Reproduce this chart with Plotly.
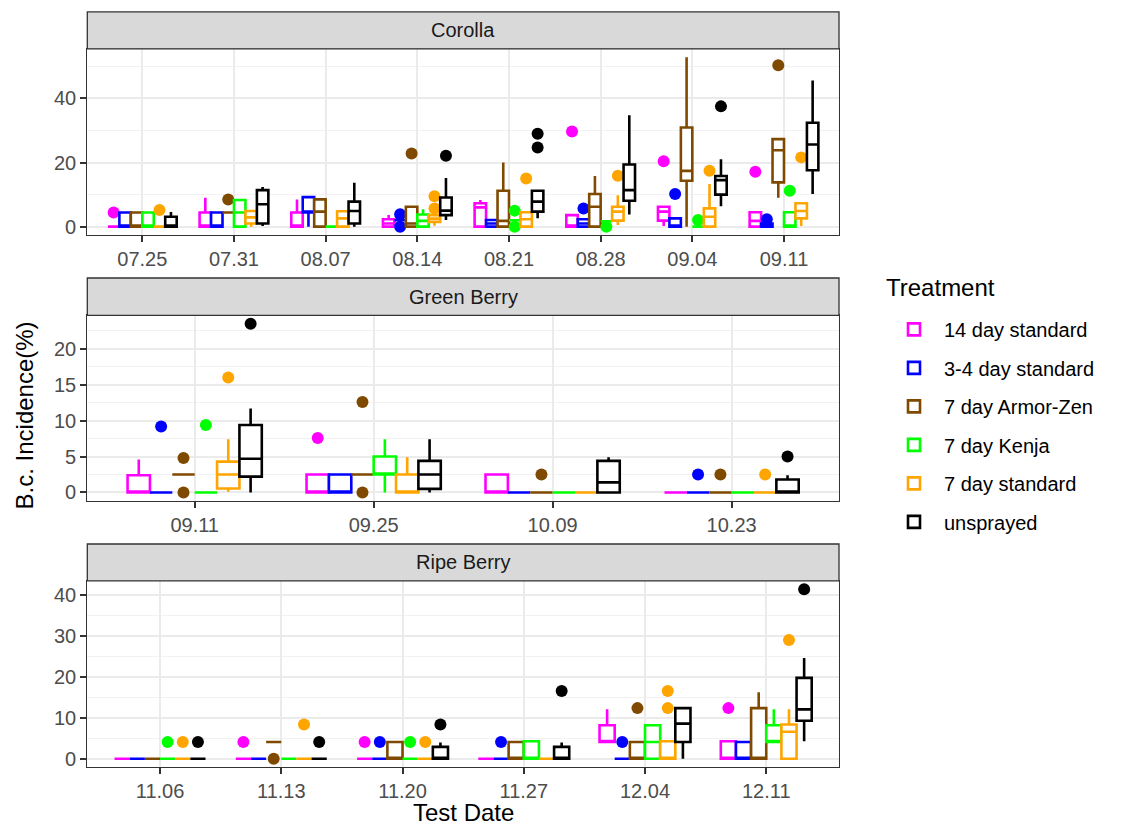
import plotly.graph_objects as go

# ---------------------------------------------------------------- data
TREATMENTS = ["14 day standard", "3-4 day standard", "7 day Armor-Zen",
              "7 day Kenja", "7 day standard", "unsprayed"]
COLORS = ["#FF00FF", "#0000FF", "#7F4A00", "#00FF00", "#FFA500", "#000000"]

# Corolla
COROLLA_DATES = ["07.25", "07.31", "08.07", "08.14", "08.21", "08.28", "09.04", "09.11"]
COROLLA_LOWER = {
    "14 day standard":  [0, 0, 0, 0, 0, 0, 0.2, 0],
    "3-4 day standard": [0, 0, 0, 2.0, 0, 0, 0, 0],
    "7 day Armor-Zen":  [0, 4.4, 0, 0, 0, 0, 0, 9.0],
    "7 day Kenja":      [0, 0, 0, 0, 2.0, 1.7, 0, 0],
    "7 day standard":   [0, 0, 0, 0.3, 0, 0.5, 0, 0.2],
    "unsprayed":        [0, 0.2, 0, 2.1, 2.6, 3.8, 6.4, 10.2],
}
COROLLA_Q1 = {
    "14 day standard":  [0, 0, 0, 0, 0, 0, 1.9, 0],
    "3-4 day standard": [0, 0, 4.4, 2.0, 0, 0, 0, 0],
    "7 day Armor-Zen":  [0, 4.4, 0, 0, 0, 0, 14.3, 13.8],
    "7 day Kenja":      [0, 0, 0, 0, 2.0, 1.7, 0, 0],
    "7 day standard":   [0, 1.0, 0, 1.5, 0, 1.9, 0, 2.6],
    "unsprayed":        [0, 1.0, 1.0, 3.6, 4.7, 8.1, 10.0, 17.6],
}
COROLLA_MEDIAN = {
    "14 day standard":  [0, 0, 0, 1.0, 6.0, 0, 4.7, 1.8],
    "3-4 day standard": [0, 0, 4.7, 2.0, 1.0, 1.0, 0, 0],
    "7 day Armor-Zen":  [0, 4.4, 4.7, 1.0, 1.8, 6.2, 17.4, 23.8],
    "7 day Kenja":      [0, 4.4, 0, 1.8, 2.0, 1.7, 0, 0],
    "7 day standard":   [0, 2.9, 2.6, 2.5, 2.3, 4.7, 3.1, 4.9],
    "unsprayed":        [0, 7.0, 4.9, 5.0, 7.8, 11.4, 14.5, 25.6],
}
COROLLA_Q3 = {
    "14 day standard":  [0, 4.4, 4.4, 2.3, 7.3, 3.6, 6.2, 4.5],
    "3-4 day standard": [4.4, 4.4, 9.2, 2.0, 2.1, 2.3, 2.6, 1.0],
    "7 day Armor-Zen":  [4.4, 4.4, 8.5, 6.2, 11.2, 10.2, 30.9, 27.3],
    "7 day Kenja":      [4.4, 8.3, 0, 3.8, 2.0, 1.7, 0, 4.5],
    "7 day standard":   [0, 4.9, 4.8, 3.6, 4.5, 6.2, 5.7, 7.3],
    "unsprayed":        [3.1, 11.4, 7.8, 9.1, 11.2, 19.4, 15.8, 32.4],
}
COROLLA_UPPER = {
    "14 day standard":  [0, 9.0, 8.5, 3.6, 8.3, 3.6, 6.2, 4.5],
    "3-4 day standard": [4.4, 4.4, 9.2, 2.0, 2.1, 2.3, 2.6, 1.0],
    "7 day Armor-Zen":  [4.4, 4.4, 8.5, 6.2, 20.0, 15.8, 52.8, 27.3],
    "7 day Kenja":      [4.4, 8.3, 0, 5.4, 2.0, 1.7, 0, 4.5],
    "7 day standard":   [0, 4.9, 4.8, 3.6, 4.5, 9.8, 13.3, 7.3],
    "unsprayed":        [4.6, 12.4, 13.7, 15.2, 11.2, 34.7, 21.0, 45.6],
}
COROLLA_OUTLIERS = {
    "14 day standard":  [[4.4], [], [], [], [], [29.7], [20.4], [17.1]],
    "3-4 day standard": [[], [], [], [3.9, 0], [], [5.7], [10.2], [2.3]],
    "7 day Armor-Zen":  [[], [8.5], [], [22.8], [], [], [], [50.3]],
    "7 day Kenja":      [[], [], [], [], [5.0, 0], [0], [2.1], [11.2]],
    "7 day standard":   [[5.2], [], [], [9.5, 5.7], [15.0], [15.9], [17.4], [21.6]],
    "unsprayed":        [[], [], [], [22.1], [29.0, 24.7], [], [37.5], []],
}

# Green Berry
GREEN_DATES = ["09.11", "09.25", "10.09", "10.23"]
GREEN_LOWER = {
    "14 day standard":  [0, 0, 0, 0],
    "3-4 day standard": [0, 0, 0, 0],
    "7 day Armor-Zen":  [2.5, 2.5, 0, 0],
    "7 day Kenja":      [0, 0, 0, 0],
    "7 day standard":   [0.1, 0, 0, 0],
    "unsprayed":        [0, 0, 0, 0],
}
GREEN_Q1 = {
    "14 day standard":  [0, 0, 0, 0],
    "3-4 day standard": [0, 0, 0, 0],
    "7 day Armor-Zen":  [2.5, 2.5, 0, 0],
    "7 day Kenja":      [0, 2.5, 0, 0],
    "7 day standard":   [0.55, 0, 0, 0],
    "unsprayed":        [2.2, 0.5, 0, 0],
}
GREEN_MEDIAN = {
    "14 day standard":  [0, 0, 0, 0],
    "3-4 day standard": [0, 0, 0, 0],
    "7 day Armor-Zen":  [2.5, 2.5, 0, 0],
    "7 day Kenja":      [0, 2.5, 0, 0],
    "7 day standard":   [2.5, 0, 0, 0],
    "unsprayed":        [4.7, 2.5, 1.4, 0],
}
GREEN_Q3 = {
    "14 day standard":  [2.4, 2.5, 2.5, 0],
    "3-4 day standard": [0, 2.5, 0, 0],
    "7 day Armor-Zen":  [2.5, 2.5, 0, 0],
    "7 day Kenja":      [0, 5.0, 0, 0],
    "7 day standard":   [4.3, 2.5, 0, 0],
    "unsprayed":        [9.4, 4.4, 4.4, 1.8],
}
GREEN_UPPER = {
    "14 day standard":  [4.6, 2.5, 2.5, 0],
    "3-4 day standard": [0, 2.5, 0, 0],
    "7 day Armor-Zen":  [2.5, 2.5, 0, 0],
    "7 day Kenja":      [0, 7.4, 0, 0],
    "7 day standard":   [7.4, 4.9, 0, 0],
    "unsprayed":        [11.7, 7.4, 4.9, 2.4],
}
GREEN_OUTLIERS = {
    "14 day standard":  [[], [7.6], [], []],
    "3-4 day standard": [[9.2], [], [], [2.5]],
    "7 day Armor-Zen":  [[4.8, 0], [12.6, 0], [2.5], [2.5]],
    "7 day Kenja":      [[9.4], [], [], []],
    "7 day standard":   [[16.0], [], [], [2.5]],
    "unsprayed":        [[23.5], [], [], [5.0]],
}

# Ripe Berry
RIPE_DATES = ["11.06", "11.13", "11.20", "11.27", "12.04", "12.11"]
RIPE_LOWER = {
    "14 day standard":  [0, 0, 0, 0, 4.1, 0],
    "3-4 day standard": [0, 0, 0, 0, 0, 0],
    "7 day Armor-Zen":  [0, 4.1, 0, 0, 0, 0],
    "7 day Kenja":      [0, 0, 0, 0, 0, 4.1],
    "7 day standard":   [0, 0, 0, 0, 0, 0],
    "unsprayed":        [0, 0, 0, 0, 0, 4.3],
}
RIPE_Q1 = {
    "14 day standard":  [0, 0, 0, 0, 4.1, 0],
    "3-4 day standard": [0, 0, 0, 0, 0, 0],
    "7 day Armor-Zen":  [0, 4.1, 0, 0, 0, 0],
    "7 day Kenja":      [0, 0, 0, 0, 0, 4.1],
    "7 day standard":   [0, 0, 0, 0, 0, 0],
    "unsprayed":        [0, 0, 0, 0, 4.1, 9.3],
}
RIPE_MEDIAN = {
    "14 day standard":  [0, 0, 0, 0, 4.1, 0],
    "3-4 day standard": [0, 0, 0, 0, 0, 0],
    "7 day Armor-Zen":  [0, 4.1, 0, 0, 0, 0],
    "7 day Kenja":      [0, 0, 0, 0, 4.1, 4.1],
    "7 day standard":   [0, 0, 0, 0, 0, 6.6],
    "unsprayed":        [0, 0, 0, 0, 8.6, 12.1],
}
RIPE_Q3 = {
    "14 day standard":  [0, 0, 0, 0, 8.2, 4.3],
    "3-4 day standard": [0, 0, 0, 0, 0, 4.1],
    "7 day Armor-Zen":  [0, 4.1, 4.1, 4.1, 4.1, 12.4],
    "7 day Kenja":      [0, 0, 0, 4.3, 8.2, 8.2],
    "7 day standard":   [0, 0, 0, 0, 4.3, 8.4],
    "unsprayed":        [0, 0, 2.9, 2.9, 12.4, 19.8],
}
RIPE_UPPER = {
    "14 day standard":  [0, 0, 0, 0, 12.1, 4.3],
    "3-4 day standard": [0, 0, 0, 0, 0, 4.1],
    "7 day Armor-Zen":  [0, 4.1, 4.1, 4.1, 4.1, 16.3],
    "7 day Kenja":      [0, 0, 0, 4.3, 8.2, 12.1],
    "7 day standard":   [0, 0, 0, 0, 4.3, 12.1],
    "unsprayed":        [0, 0, 4.0, 4.0, 12.4, 24.7],
}
RIPE_OUTLIERS = {
    "14 day standard":  [[], [4.1], [4.1], [], [], [12.4]],
    "3-4 day standard": [[], [], [4.1], [4.1], [4.1], []],
    "7 day Armor-Zen":  [[], [0], [], [], [12.4], []],
    "7 day Kenja":      [[4.1], [], [4.1], [], [], []],
    "7 day standard":   [[4.1], [8.4], [4.1], [], [16.6, 12.4], [29.1]],
    "unsprayed":        [[4.1], [4.1], [8.4], [16.6], [], [41.5]],
}

PANEL_TITLES = ["Corolla", "Green Berry", "Ripe Berry"]
PANEL_DATES = [COROLLA_DATES, GREEN_DATES, RIPE_DATES]
PANEL_STATS = [
    (COROLLA_LOWER, COROLLA_Q1, COROLLA_MEDIAN, COROLLA_Q3, COROLLA_UPPER, COROLLA_OUTLIERS),
    (GREEN_LOWER, GREEN_Q1, GREEN_MEDIAN, GREEN_Q3, GREEN_UPPER, GREEN_OUTLIERS),
    (RIPE_LOWER, RIPE_Q1, RIPE_MEDIAN, RIPE_Q3, RIPE_UPPER, RIPE_OUTLIERS),
]
PANEL_DTICK = [20, 5, 10]

# ---------------------------------------------------------------- layout geometry (pixels)
W, H = 1130, 825
PLOT_X = (87.3, 839.0)
# (strip top, panel top, panel bottom)
PANEL_PX = [(12, 49, 236), (279, 316.5, 502.7), (546, 583, 770)]

FONT = "Liberation Sans, Arial, Helvetica, sans-serif"
AXIS_GREY = "#333333"
TEXT_GREY = "#4D4D4D"
SMALL = 20
LARGE = 24


def px_x(v):
    return v / W


def px_y(v):
    return 1 - v / H


def sample_rows(rows):
    # empty rows get a null placeholder so every row is a non-empty array
    return [r if r else [None] for r in rows]


fig = go.Figure()

for p, (dates, stats) in enumerate(zip(PANEL_DATES, PANEL_STATS)):
    lower, q1, med, q3, upper, outl = stats
    suffix = "" if p == 0 else str(p + 1)
    for t, color in zip(TREATMENTS, COLORS):
        fig.add_trace(go.Box(
            name=t,
            legendgroup=t,
            showlegend=(p == 0),
            alignmentgroup=PANEL_TITLES[p],
            offsetgroup=t,
            x=dates,
            y=sample_rows(outl[t]),
            lowerfence=lower[t],
            q1=q1[t],
            median=med[t],
            q3=q3[t],
            upperfence=upper[t],
            boxpoints="outliers",
            jitter=0,
            pointpos=0,
            whiskerwidth=0,
            fillcolor="white",
            line=dict(color=color, width=2.6),
            marker=dict(color=color, size=12, line=dict(width=0)),
            xaxis="x" + suffix,
            yaxis="y" + suffix,
            hoverinfo="skip",
        ))

layout = dict(
    width=W, height=H,
    margin=dict(l=0, r=0, t=0, b=0),
    paper_bgcolor="white",
    plot_bgcolor="white",
    boxmode="group",
    boxgap=0.25,
    boxgroupgap=0,
    font=dict(family=FONT, color=TEXT_GREY),
    showlegend=True,
    legend=dict(
        font=dict(size=SMALL, color="#000000"),
        x=px_x(884), y=px_y(311), xanchor="left", yanchor="top",
        traceorder="grouped",
        tracegroupgap=9.5,
        itemwidth=50,
        bgcolor="rgba(0,0,0,0)",
    ),
    shapes=[],
    annotations=[],
)

for p, dates in enumerate(PANEL_DATES):
    suffix = "" if p == 0 else str(p + 1)
    strip_top, top, bottom = PANEL_PX[p]
    lower, q1, med, q3, upper, outl = PANEL_STATS[p]
    vals = [v for t in TREATMENTS for v in lower[t] + upper[t]]
    vals += [v for t in TREATMENTS for grp in outl[t] for v in grp]
    lo, hi = min(vals), max(vals)
    pad = 0.05 * (hi - lo)
    dtick = PANEL_DTICK[p]

    layout["xaxis" + suffix] = dict(
        domain=[px_x(PLOT_X[0]), px_x(PLOT_X[1])],
        anchor="y" + suffix,
        type="category",
        categoryorder="array", categoryarray=dates,
        range=[-0.6, len(dates) - 0.4],
        showgrid=True, gridcolor="#EBEBEB", gridwidth=2.2,
        zeroline=False,
        showline=True, mirror=True, linecolor=AXIS_GREY, linewidth=1.3,
        ticks="outside", ticklen=6, tickwidth=1.6, tickcolor=AXIS_GREY,
        tickfont=dict(size=SMALL, color=TEXT_GREY),
    )
    layout["yaxis" + suffix] = dict(
        domain=[px_y(bottom), px_y(top)],
        anchor="x" + suffix,
        range=[lo - pad, hi + pad],
        tick0=0, dtick=dtick,
        minor=dict(dtick=dtick / 2, showgrid=True, gridcolor="#F2F2F2", gridwidth=1.2),
        showgrid=True, gridcolor="#EBEBEB", gridwidth=2.2,
        zeroline=False,
        showline=True, mirror=True, linecolor=AXIS_GREY, linewidth=1.3,
        ticks="outside", ticklen=6, tickwidth=1.6, tickcolor=AXIS_GREY,
        tickfont=dict(size=SMALL, color=TEXT_GREY),
    )

    # facet strip
    layout["shapes"].append(dict(
        type="rect", xref="paper", yref="paper",
        x0=px_x(PLOT_X[0]), x1=px_x(PLOT_X[1]),
        y0=px_y(top), y1=px_y(strip_top),
        fillcolor="#D9D9D9", line=dict(color=AXIS_GREY, width=1.3),
    ))
    layout["annotations"].append(dict(
        text=PANEL_TITLES[p], xref="paper", yref="paper",
        x=px_x((PLOT_X[0] + PLOT_X[1]) / 2), y=px_y((strip_top + top) / 2),
        xanchor="center", yanchor="middle", showarrow=False,
        font=dict(size=SMALL, color="#1A1A1A"),
    ))

layout["annotations"].append(dict(
    text="Test Date", xref="paper", yref="paper",
    x=px_x((PLOT_X[0] + PLOT_X[1]) / 2), y=px_y(815),
    xanchor="center", yanchor="middle", showarrow=False,
    font=dict(size=LARGE, color="#000000"),
))
layout["annotations"].append(dict(
    text="B.c. Incidence(%)", xref="paper", yref="paper",
    x=px_x(24), y=px_y(417), textangle=-90,
    xanchor="center", yanchor="middle", showarrow=False,
    font=dict(size=LARGE, color="#000000"),
))
layout["annotations"].append(dict(
    text="Treatment", xref="paper", yref="paper",
    x=px_x(884), y=px_y(289),
    xanchor="left", yanchor="middle", showarrow=False,
    font=dict(size=LARGE, color="#000000"),
))

fig.update_layout(layout)
fig.write_html("out.html")
